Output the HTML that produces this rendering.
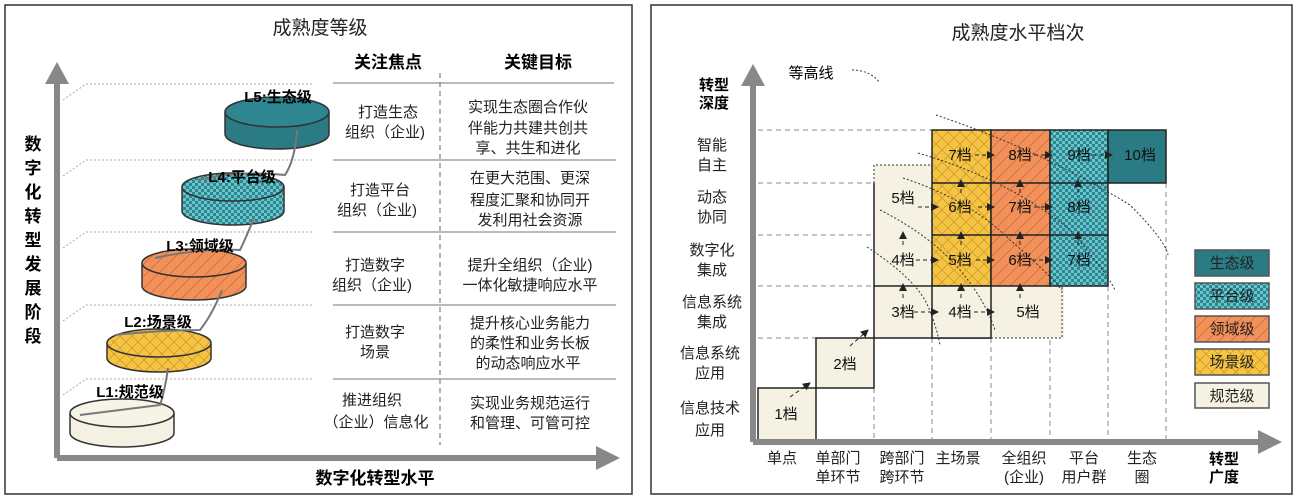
<!DOCTYPE html>
<html><head><meta charset="utf-8"><style>
body{margin:0;background:#fff}
svg{display:block;font-family:"Liberation Sans","Noto Sans CJK SC",sans-serif}
</style></head><body>
<svg width="1297" height="499" viewBox="0 0 1297 499" xmlns="http://www.w3.org/2000/svg">
<defs>
<pattern id="chk" width="6" height="6" patternUnits="userSpaceOnUse"><rect width="6" height="6" fill="#6cc3cb"/><rect width="3" height="3" fill="#2a8790"/><rect x="3" y="3" width="3" height="3" fill="#2a8790"/></pattern>
<pattern id="xh" width="12" height="12" patternUnits="userSpaceOnUse"><rect width="12" height="12" fill="#f6c443"/><path d="M0 0L12 12M12 0L0 12" stroke="#c9952a" stroke-width="0.7"/></pattern>
<pattern id="dg" width="12" height="12" patternUnits="userSpaceOnUse"><rect width="12" height="12" fill="#f2905a"/><path d="M0 12L12 0" stroke="#c9683a" stroke-width="0.7"/></pattern>
<marker id="ah" markerWidth="8" markerHeight="8" refX="7" refY="4" orient="auto" markerUnits="userSpaceOnUse"><path d="M0 0L8 4L0 8z" fill="#222"/></marker>
</defs>
<rect x="5" y="5" width="627" height="489" fill="none" stroke="#333" stroke-width="1.5"/>
<rect x="651" y="5" width="641" height="489" fill="none" stroke="#333" stroke-width="1.5"/>
<!-- LEFT -->
<text x="320" y="34" font-size="19" text-anchor="middle" fill="#222">成熟度等级</text>
<g stroke="#aaa" stroke-dasharray="2,2" fill="none">
<path d="M63 100L86 84H314"/><path d="M63 176L86 160H314"/><path d="M63 248L86 232H314"/><path d="M63 321L86 305H314"/><path d="M63 395L86 379H314"/>
</g>
<path d="M57 458V78" stroke="#888" stroke-width="6"/><path d="M45 84L57 62L69 84z" fill="#888"/>
<path d="M57 458H600" stroke="#888" stroke-width="6"/><path d="M596 446L620 458L596 470z" fill="#888"/>
<text x="375" y="484" font-size="17" font-weight="bold" text-anchor="middle">数字化转型水平</text>
<g font-size="17" font-weight="bold" text-anchor="middle">
<text x="33" y="150">数</text><text x="33" y="174">字</text><text x="33" y="198">化</text><text x="33" y="222">转</text><text x="33" y="246">型</text><text x="33" y="270">发</text><text x="33" y="294">展</text><text x="33" y="318">阶</text><text x="33" y="342">段</text></g>
<g font-size="17" font-weight="bold" text-anchor="middle"><text x="388" y="68">关注焦点</text><text x="538" y="68">关键目标</text></g>
<path d="M440 73V445" stroke="#666" stroke-dasharray="5,4"/>
<g stroke="#777"><path d="M333 83H614M333 160H616M333 232H616M333 305H616M333 379H616"/></g>
<g font-size="15" text-anchor="middle" fill="#222">
<text x="388" y="117">打造生态</text><text x="385" y="137">组织（企业)</text>
<text x="380" y="195">打造平台</text><text x="377" y="215">组织（企业)</text>
<text x="375" y="270">打造数字</text><text x="372" y="290">组织（企业)</text>
<text x="375" y="337">打造数字</text><text x="375" y="357">场景</text>
<text x="372" y="405">推进组织</text><text x="376" y="427">（企业）信息化</text>
<text x="528" y="112">实现生态圈合作伙</text><text x="528" y="133">伴能力共建共创共</text><text x="528" y="153">享、共生和进化</text>
<text x="530" y="183">在更大范围、更深</text><text x="530" y="205">程度汇聚和协同开</text><text x="530" y="225">发利用社会资源</text>
<text x="530" y="270">提升全组织（企业)</text><text x="530" y="290">一体化敏捷响应水平</text>
<text x="530" y="328">提升核心业务能力</text><text x="530" y="348">的柔性和业务长板</text><text x="528" y="368">的动态响应水平</text>
<text x="530" y="408">实现业务规范运行</text><text x="530" y="428">和管理、可管可控</text>
</g>
<g stroke="#333" stroke-width="1.5">
<path d="M225 112V134A52 15 0 0 0 329 134V112" fill="#2a7b84"/><ellipse cx="277" cy="112" rx="52" ry="15" fill="#2e8790"/>
<path d="M182 187V211A51 14 0 0 0 284 211V187" fill="url(#chk)"/><ellipse cx="233" cy="187" rx="51" ry="14" fill="url(#chk)"/>
<path d="M142 263V286A52 14 0 0 0 246 286V263" fill="url(#dg)"/><ellipse cx="194" cy="263" rx="52" ry="14" fill="url(#dg)"/>
<path d="M107 343V358A52 14 0 0 0 211 358V343" fill="url(#xh)"/><ellipse cx="159" cy="343" rx="52" ry="14" fill="url(#xh)"/>
<path d="M70 413V433A52 14 0 0 0 174 433V413" fill="#f5f1e2"/><ellipse cx="122" cy="413" rx="52" ry="14" fill="#f7f3e6"/>
</g>
<g stroke="#777" stroke-width="2" fill="none">
<path d="M297 130Q295 160 285 175Q240 170 198 180"/><path d="M254 218Q245 240 240 250Q200 248 155 258"/>
<path d="M222 290Q212 315 200 330Q160 330 115 335"/><path d="M168 368Q165 390 160 405Q120 410 80 415"/>
</g>
<g font-size="15" font-weight="bold" text-anchor="middle">
<text x="278" y="102">L5:生态级</text><text x="242" y="182">L4:平台级</text><text x="200" y="251">L3:领域级</text><text x="158" y="327">L2:场景级</text><text x="130" y="397">L1:规范级</text>
</g>
<!-- RIGHT -->
<text x="1018" y="39" font-size="19" text-anchor="middle" fill="#222">成熟度水平档次</text>
<text x="811" y="78" font-size="15" text-anchor="middle">等高线</text>
<path d="M852 70Q870 70 880 83" stroke="#333" stroke-dasharray="2,2" fill="none"/>
<g font-size="15" font-weight="bold" text-anchor="middle"><text x="714" y="90">转型</text><text x="714" y="108">深度</text><text x="1224" y="464">转型</text><text x="1224" y="482">广度</text></g>
<g stroke="#888" stroke-dasharray="5,4" fill="none">
<path d="M758 130H932M758 183H874M758 235H874M758 286H874M758 338H816"/>
<path d="M932 338V440M991 338V440M1050 286V440M1108 286V440M1166 183V440M874 388V440M816 440V440"/>
</g>
<!-- cells -->
<g stroke="#222" stroke-width="1.5">
<rect x="874" y="165" width="58" height="173" fill="#f5f2e3" stroke="none"/>
<rect x="874" y="286" width="190" height="52" fill="#f5f2e3" stroke="none"/>
<path d="M874 183V338H991M874 286H991" fill="none"/>
<rect x="932" y="130" width="59" height="156" fill="url(#xh)"/>
<rect x="991" y="130" width="59" height="156" fill="url(#dg)"/>
<rect x="1050" y="130" width="58" height="156" fill="url(#chk)"/>
<rect x="1108" y="130" width="58" height="53" fill="#2a7b84"/>
<path d="M932 183H1108M932 235H1108" fill="none"/>
<rect x="932" y="286" width="59" height="52" fill="#f5f2e3"/>
<rect x="816" y="338" width="58" height="50" fill="#f5f2e3"/>
<rect x="758" y="388" width="58" height="52" fill="#f5f2e3"/>
</g>
<path d="M874 183V165H932M991 338H1062V286" stroke="#333" stroke-dasharray="2,2" fill="none"/>
<path d="M753 442V80" stroke="#888" stroke-width="6"/><path d="M741 86L753 64L765 86z" fill="#888"/>
<path d="M753 442H1262" stroke="#888" stroke-width="6"/><path d="M1258 430L1282 442L1258 454z" fill="#888"/>
<!-- arrows -->
<g stroke="#222" stroke-dasharray="4,3" fill="none" marker-end="url(#ah)">
<path d="M790 397L810 383"/><path d="M850 346L868 330"/>
<path d="M914 312H938"/><path d="M974 312H994"/><path d="M916 260H938"/><path d="M976 260H994"/><path d="M1032 260H1052"/>
<path d="M918 207H938"/><path d="M978 207H994"/><path d="M1034 207H1052"/>
<path d="M975 155H994"/><path d="M1034 155H1052"/><path d="M1092 155H1112"/>
<path d="M903 298V284"/><path d="M903 245V232"/><path d="M961 298V284"/><path d="M961 245V232"/><path d="M961 193V180"/>
<path d="M1020 298V284"/><path d="M1020 245V232"/><path d="M1020 193V180"/><path d="M1078 245V232"/><path d="M1078 193V180"/>
</g>
<g stroke="#333" stroke-dasharray="2,2" fill="none">
<path d="M936 115Q1040 150 1130 205Q1165 240 1168 255"/>
<path d="M918 153Q1010 180 1070 230Q1105 270 1115 290"/>
<path d="M903 178Q970 200 1010 240Q1045 270 1062 290"/>
<path d="M880 210Q930 235 960 270Q985 300 995 330"/>
<path d="M867 247Q910 275 925 300Q935 320 940 345"/>
</g>
<g font-size="15" text-anchor="middle" fill="#111">
<text x="786" y="419">1档</text><text x="845" y="369">2档</text><text x="903" y="317">3档</text><text x="960" y="317">4档</text><text x="1028" y="317">5档</text>
<text x="903" y="265">4档</text><text x="960" y="265">5档</text><text x="1020" y="265">6档</text><text x="1079" y="265">7档</text>
<text x="903" y="203">5档</text><text x="960" y="212">6档</text><text x="1020" y="212">7档</text><text x="1079" y="212">8档</text>
<text x="960" y="160">7档</text><text x="1020" y="160">8档</text><text x="1079" y="160">9档</text><text x="1140" y="160">10档</text>
</g>
<g font-size="15" text-anchor="middle" fill="#222">
<text x="712" y="150">智能</text><text x="712" y="170">自主</text>
<text x="712" y="202">动态</text><text x="712" y="222">协同</text>
<text x="712" y="255">数字化</text><text x="712" y="275">集成</text>
<text x="712" y="307">信息系统</text><text x="712" y="327">集成</text>
<text x="710" y="358">信息系统</text><text x="710" y="378">应用</text>
<text x="710" y="413">信息技术</text><text x="710" y="435">应用</text>
<text x="782" y="463">单点</text>
<text x="838" y="463">单部门</text><text x="838" y="482">单环节</text>
<text x="902" y="463">跨部门</text><text x="902" y="482">跨环节</text>
<text x="958" y="463">主场景</text>
<text x="1024" y="463">全组织</text><text x="1024" y="482">(企业)</text>
<text x="1084" y="463">平台</text><text x="1084" y="482">用户群</text>
<text x="1142" y="463">生态</text><text x="1142" y="482">圈</text>
</g>
<g stroke="#555" stroke-width="1.5">
<rect x="1195" y="250" width="74" height="26" fill="#2a7b84"/>
<rect x="1195" y="283" width="74" height="26" fill="url(#chk)"/>
<rect x="1195" y="316" width="74" height="26" fill="url(#dg)"/>
<rect x="1195" y="349" width="74" height="26" fill="url(#xh)"/>
<rect x="1195" y="383" width="74" height="25" fill="#f5f2e3"/>
</g>
<g font-size="15" text-anchor="middle" fill="#222">
<text x="1232" y="268">生态级</text><text x="1232" y="301">平台级</text><text x="1232" y="334">领域级</text><text x="1232" y="367">场景级</text><text x="1232" y="401">规范级</text>
</g>
</svg>
</body></html>
